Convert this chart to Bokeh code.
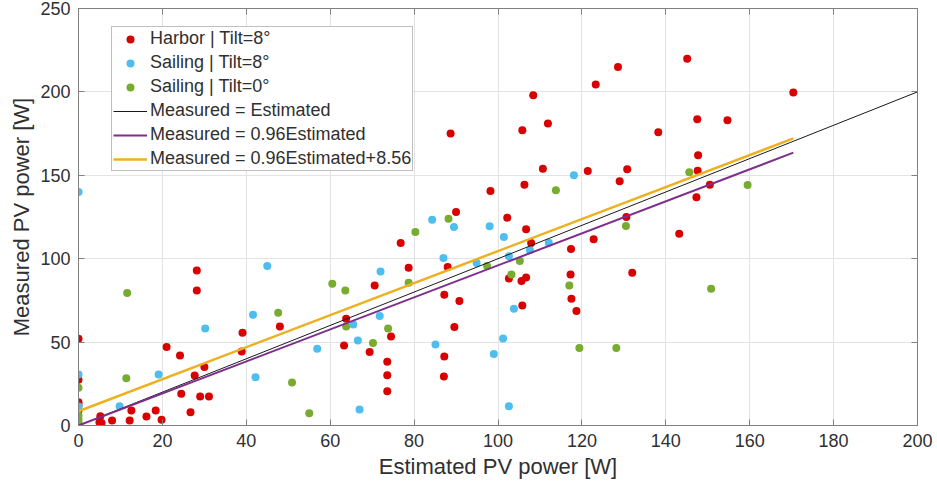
from bokeh.plotting import figure
from bokeh.models import LinearAxis, Range1d, FixedTicker, Legend, LegendItem
from bokeh.embed import file_html
from bokeh.resources import INLINE

# Harbor | Tilt=8°
harbor_x = [0, 0, 0, 0, 0, 0,
            5.2, 5, 5.5, 8, 12.2, 12.6, 16.2, 18.4, 19.8, 21, 24.2, 24.5, 26.7, 28.2, 28.2, 27.7, 30, 29, 31.1,
            39.1, 38.9, 48, 63.8, 63.3,
            88.7, 105.8, 108.4, 111.9, 110.7, 106.3, 98.2, 121.4, 129, 130.8, 123.3, 128.6, 90, 102.2,
            106.7, 107.9, 122.8, 117.4, 130.6, 132, 76.8, 88, 78.7, 70.6, 87.2, 90.8, 89.6, 74.5, 69.4,
            73.6, 73.6, 73.6, 87.2, 87.1, 102.6, 105.6, 106.7, 105.8, 117.3, 117.5, 118.7,
            145.1, 170.4, 147.5, 154.7, 138.2, 147.7, 147.6, 150.5, 147.3, 143.2]
harbor_y = [52, 27.4, 14, 12, 9, 1,
            5.5, 2, 1.5, 3, 3, 9, 5.4, 9, 3.4, 47, 42, 19, 8, 93, 81, 30, 35, 17.4, 17.4,
            55.6, 44.4, 59.4, 64, 48,
            175, 177, 198, 181, 154, 144.4, 140.6, 152.6, 146.4, 153.6, 204.4, 215, 128, 124.6,
            117.6, 109.4, 111.6, 105.8, 125, 91.6, 109.4, 95, 94.6, 84, 78.4, 74.6, 59, 53.4, 44,
            38.2, 30.2, 20.6, 41.4, 29.4, 88.2, 86.6, 88.8, 72, 90.6, 76, 68.6,
            219.8, 199.6, 183.6, 183, 175.8, 162, 152.8, 144.4, 136.8, 115]

# Sailing | Tilt=8°
sail8_x = [0, 0, 0, 9.8, 19.1, 30.2, 41.6, 42.2, 45, 56.9, 65.5, 66.6, 67,
           84.3, 118.1, 89.5, 98, 101.4, 107.6, 112.1, 87, 94.9, 102.6, 72, 71.8, 85.1, 99, 101.2, 102.6, 103.8]
sail8_y = [140, 30.6, 11.4, 11.6, 30.6, 58.2, 66.4, 29, 95.6, 46, 60.6, 51, 9.6,
           123.4, 150, 119, 119.4, 113, 105, 109.6, 100.4, 97.4, 101.4, 92.4, 65.6, 48.6, 42.8, 52.2, 11.6, 70]

# Sailing | Tilt=0°
sail0_x = [0, 0, 0, 0, 11.6, 11.4, 47.6, 50.9, 55, 60.5, 63.6, 63.8,
           88.2, 113.8, 130.5, 80.3, 97.4, 105.2, 78.7, 73.8, 70.2, 103.2, 117, 119.4, 128.2, 145.6, 159.5, 150.8]
sail0_y = [22.6, 6, 3.4, 1, 79.4, 28.4, 67.6, 25.8, 7.4, 85, 81, 59.4,
           124, 141, 119.6, 116, 95.6, 98.6, 85.6, 58.2, 49.4, 90.6, 84, 46.4, 46.4, 151.8, 144.2, 82]

# Reference / fit lines
ident_x = [0, 200]
fit_x = [0, 170.4]
slope = 0.96
offset = 8.56

x_ticks = [0, 20, 40, 60, 80, 100, 120, 140, 160, 180, 200]
y_ticks = [0, 50, 100, 150, 200, 250]

TXT = "#303030"
FONT = "Liberation Sans"
AXC = "#808080"

p = figure(width=935, height=484, output_backend="svg", toolbar_location=None,
           x_range=Range1d(0, 200), y_range=Range1d(0, 250),
           min_border_left=78, min_border_right=18, min_border_top=8, min_border_bottom=59)

p.outline_line_color = AXC
p.outline_line_width = 1

for ax, dim in ((p.xaxis[0], "x"), (p.yaxis[0], "y")):
    ax.ticker = FixedTicker(ticks=x_ticks if dim == "x" else y_ticks)
    ax.major_tick_in = 6
    ax.major_tick_out = 0
    ax.minor_tick_line_color = None
    ax.axis_line_color = AXC
    ax.major_tick_line_color = AXC
    ax.major_label_text_font = FONT
    ax.major_label_text_font_size = "18px"
    ax.major_label_text_color = TXT
    ax.axis_label_text_font = FONT
    ax.axis_label_text_font_size = "22px"
    ax.axis_label_text_font_style = "normal"
    ax.axis_label_text_color = TXT

p.xaxis[0].axis_label = "Estimated PV power [W]"
p.yaxis[0].axis_label = "Measured PV power [W]"
p.xaxis[0].major_label_standoff = 8
p.xaxis[0].axis_label_standoff = 4
p.yaxis[0].major_label_standoff = 8
p.yaxis[0].axis_label_standoff = 3

# box ticks on top and right (no labels)
top_ax = LinearAxis(ticker=FixedTicker(ticks=x_ticks), major_tick_in=6, major_tick_out=0,
                    minor_tick_line_color=None, axis_line_color=AXC,
                    major_tick_line_color=AXC, major_label_text_font_size="1px",
                    major_label_text_color=None, major_label_standoff=0)
right_ax = LinearAxis(ticker=FixedTicker(ticks=y_ticks), major_tick_in=6, major_tick_out=0,
                      minor_tick_line_color=None, axis_line_color=AXC,
                      major_tick_line_color=AXC, major_label_text_font_size="1px",
                      major_label_text_color=None, major_label_standoff=0)
p.add_layout(top_ax, "above")
p.add_layout(right_ax, "right")

p.xgrid.ticker = FixedTicker(ticks=x_ticks)
p.ygrid.ticker = FixedTicker(ticks=y_ticks)
p.xgrid.grid_line_color = "#E3E3E3"
p.ygrid.grid_line_color = "#E3E3E3"

RED = "#D90000"
BLUE = "#4DBEEE"
GREEN = "#77AC30"
PURPLE = "#7E2F8E"
ORANGE = "#EDB120"

r1 = p.scatter(harbor_x, harbor_y, size=8, color=RED, line_color=None)
r2 = p.scatter(sail8_x, sail8_y, size=8, color=BLUE, line_color=None)
r3 = p.scatter(sail0_x, sail0_y, size=8, color=GREEN, line_color=None)

r4 = p.line(ident_x, ident_x, line_color="#1A1A1A", line_width=1)
r5 = p.line(fit_x, [slope * v for v in fit_x], line_color=PURPLE, line_width=2)
r6 = p.line(fit_x, [slope * v + offset for v in fit_x], line_color=ORANGE, line_width=2.5)

legend = Legend(items=[
    LegendItem(label="Harbor | Tilt=8°", renderers=[r1]),
    LegendItem(label="Sailing | Tilt=8°", renderers=[r2]),
    LegendItem(label="Sailing | Tilt=0°", renderers=[r3]),
    LegendItem(label="Measured = Estimated", renderers=[r4]),
    LegendItem(label="Measured = 0.96Estimated", renderers=[r5]),
    LegendItem(label="Measured = 0.96Estimated+8.56", renderers=[r6]),
], location=(33, 254))
legend.label_text_font = FONT
legend.label_text_font_size = "18px"
legend.label_text_color = TXT
legend.glyph_width = 34
legend.glyph_height = 20
legend.label_height = 20
legend.spacing = 3
legend.padding = 1
legend.label_standoff = 3
legend.margin = 0
legend.border_line_color = AXC
legend.border_line_width = 1
legend.background_fill_color = "white"
legend.background_fill_alpha = 1
p.add_layout(legend, "center")

open("out.html", "w").write(file_html(p, INLINE))
